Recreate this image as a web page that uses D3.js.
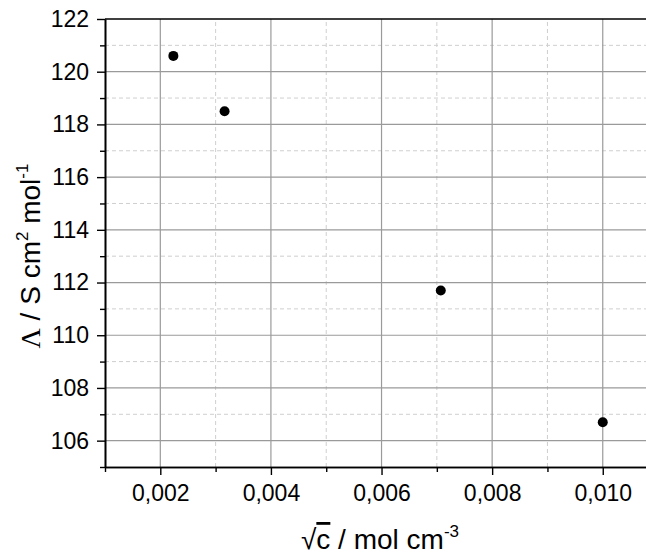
<!DOCTYPE html>
<html>
<head>
<meta charset="utf-8">
<script src="https://cdn.jsdelivr.net/npm/d3@7"></script>
<style>
  body { margin: 0; background: white; }
  text { font-family: "Liberation Sans", Arial, sans-serif; fill: black; }
</style>
</head>
<body>
<div id="chart"></div>
<script>
// data: sqrt(c) vs molar conductivity
const sqrtC = [0.002236, 0.003162, 0.007071, 0.0100];
const lambda = [120.6, 118.5, 111.7, 106.7];
const xTicks = [0.002, 0.004, 0.006, 0.008, 0.010];
const xMinor = [0.001, 0.003, 0.005, 0.007, 0.009];
const yTicks = [106, 108, 110, 112, 114, 116, 118, 120, 122];
const yMinor = [105, 107, 109, 111, 113, 115, 117, 119, 121];

const W = 646, H = 555;
const margin = { top: 19, right: 0, bottom: 88, left: 105 };

const svg = d3.select("#chart").append("svg")
    .attr("width", W)
    .attr("height", H);

const x = d3.scaleLinear()
    .domain([0.001, 0.0108])
    .range([margin.left, 647]);

const y = d3.scaleLinear()
    .domain([105, 122])
    .range([H - margin.bottom, margin.top]);

const fmt = d => d3.format(".3f")(d).replace(".", ",");

// minor grid (dashed)
svg.append("g").selectAll("line")
    .data(xMinor.slice(1))
    .join("line")
    .attr("x1", d => x(d)).attr("x2", d => x(d))
    .attr("y1", y(105)).attr("y2", y(122))
    .attr("stroke", "#cfcfcf").attr("stroke-width", 1)
    .attr("stroke-dasharray", "4,3");

svg.append("g").selectAll("line")
    .data(yMinor.slice(1))
    .join("line")
    .attr("x1", x(0.001)).attr("x2", W)
    .attr("y1", d => y(d)).attr("y2", d => y(d))
    .attr("stroke", "#cfcfcf").attr("stroke-width", 1)
    .attr("stroke-dasharray", "4,3");

// major grid
svg.append("g").selectAll("line")
    .data(xTicks)
    .join("line")
    .attr("x1", d => x(d)).attr("x2", d => x(d))
    .attr("y1", y(105)).attr("y2", y(122))
    .attr("stroke", "#9a9a9a").attr("stroke-width", 1.2);

svg.append("g").selectAll("line")
    .data(yTicks.slice(0, -1))
    .join("line")
    .attr("x1", x(0.001)).attr("x2", W)
    .attr("y1", d => y(d)).attr("y2", d => y(d))
    .attr("stroke", "#9a9a9a").attr("stroke-width", 1.2);

// top frame line
svg.append("line")
    .attr("x1", x(0.001)).attr("x2", W)
    .attr("y1", y(122)).attr("y2", y(122))
    .attr("stroke", "black").attr("stroke-width", 1.6);

// x axis
svg.append("g")
    .attr("transform", `translate(0,${y(105)})`)
    .call(d3.axisBottom(x).tickValues(xTicks).tickFormat(fmt).tickSize(8).tickSizeOuter(0).tickPadding(10));
svg.append("g")
    .attr("transform", `translate(0,${y(105)})`)
    .call(d3.axisBottom(x).tickValues(xMinor).tickFormat("").tickSize(5).tickSizeOuter(0));

// y axis
svg.append("g")
    .attr("transform", `translate(${x(0.001)},0)`)
    .call(d3.axisLeft(y).tickValues(yTicks).tickSize(8).tickSizeOuter(0).tickPadding(8));
svg.append("g")
    .attr("transform", `translate(${x(0.001)},0)`)
    .call(d3.axisLeft(y).tickValues(yMinor).tickFormat("").tickSize(5).tickSizeOuter(0));

svg.selectAll(".domain").attr("stroke", "black").attr("stroke-width", 1.6);
svg.selectAll(".tick line").attr("stroke", "black").attr("stroke-width", 1.4);
svg.selectAll(".tick text")
    .style("font-family", "Liberation Sans, Arial, sans-serif")
    .style("font-size", "23px")
    .attr("fill", "black");

// points
svg.append("g").selectAll("circle")
    .data(sqrtC)
    .join("circle")
    .attr("cx", d => x(d))
    .attr("cy", (d, i) => y(lambda[i]))
    .attr("r", 5)
    .attr("fill", "black");

// x title
const xt = svg.append("text")
    .attr("x", 380)
    .attr("y", 549)
    .attr("text-anchor", "middle")
    .style("font-size", "28px");
xt.append("tspan").text("\u221A");
xt.append("tspan").style("text-decoration", "overline").text("c");
xt.append("tspan").text(" / mol cm");
xt.append("tspan").attr("dy", -12).style("font-size", "17px").text("-3");

// y title
const yt = svg.append("text")
    .attr("transform", `translate(40,256) rotate(-90)`)
    .attr("text-anchor", "middle")
    .style("font-size", "28px");
yt.append("tspan").style("font-family", "Liberation Serif, serif").text("\u039B");
yt.append("tspan").text(" / S cm");
yt.append("tspan").attr("dy", -12).style("font-size", "17px").text("2");
yt.append("tspan").attr("dy", 12).text(" mol");
yt.append("tspan").attr("dy", -12).style("font-size", "17px").text("-1");
</script>
</body>
</html>
